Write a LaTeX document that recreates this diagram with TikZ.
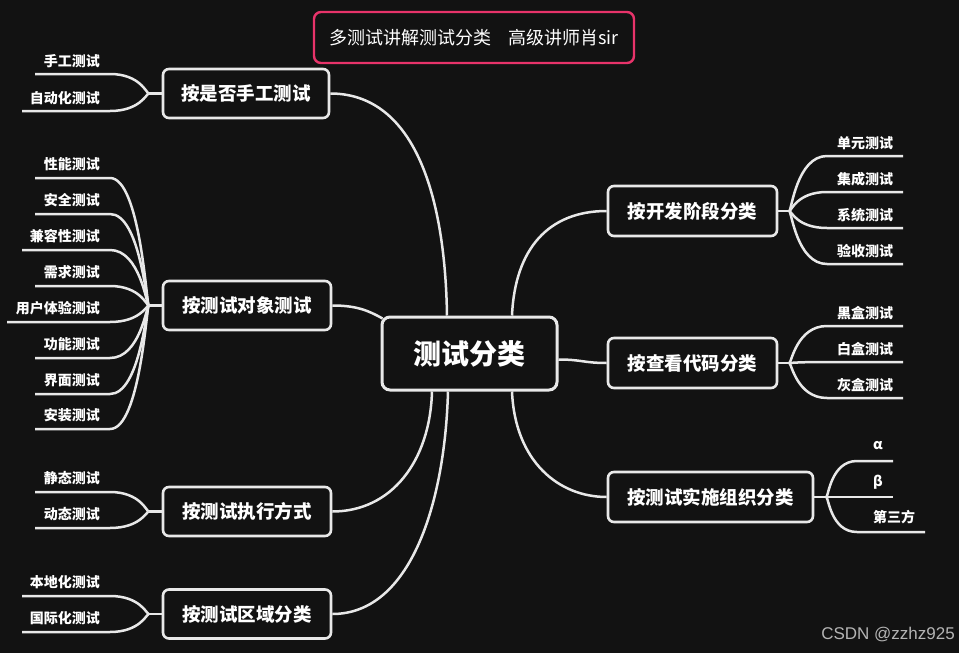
\documentclass[tikz,border=0pt]{standalone}
\usepackage{fontspec}
\setmainfont{Noto Sans CJK SC}
\newfontfamily\markfont{Liberation Sans}
\usetikzlibrary{positioning,calc}

\definecolor{bgdark}{HTML}{121212}
\definecolor{linegray}{HTML}{E8E8E8}
\definecolor{titlered}{HTML}{E8336A}
\definecolor{markgray}{HTML}{B4B4B4}

\begin{document}
\begin{tikzpicture}[x=1pt, y=-1pt,
    branch/.style={draw=linegray, line width=2.5pt},
    topic/.style={draw=linegray, line width=2.6pt, fill=bgdark, rounded corners=6pt,
        text=white, inner sep=0pt, minimum width=168pt, minimum height=49pt,
        font=\bfseries\fontsize{18.5}{21}\selectfont},
    roottopic/.style={topic, line width=3pt, rounded corners=8pt, minimum width=175pt,
        minimum height=73pt, font=\bfseries\fontsize{28}{32}\selectfont},
    titlebox/.style={draw=titlered, line width=2.4pt, rounded corners=7pt, text=white,
        minimum width=320pt, minimum height=51pt, font=\fontsize{18}{21}\selectfont},
    leafL/.style={anchor=east, text=white, inner sep=0pt, font=\bfseries\fontsize{14}{16}\selectfont},
    leafR/.style={leafL, anchor=west}]
% Canvas
\useasboundingbox (0,0) rectangle (959,653);
\fill[bgdark] (0,0) rectangle (959,653);
% Title
\node[titlebox] (title) at (474,37.5) {多测试讲解测试分类\hspace{17pt}高级讲师肖sir};
% Central topic
\node[roottopic] (root) at (469.5,353.5) {测试分类};
% Main topics
\node[topic, minimum width=166pt] (b1) at (246,93.5) {按是否手工测试};
\node[topic] (b2) at (247,305.5) {按测试对象测试};
\node[topic] (b3) at (247,511.5) {按测试执行方式};
\node[topic] (b4) at (247,614) {按测试区域分类};
\node[topic, minimum width=169pt, minimum height=50pt] (r1) at (692.5,211) {按开发阶段分类};
\node[topic, minimum width=169pt, minimum height=50pt] (r2) at (692.5,363) {按查看代码分类};
\node[topic, minimum width=205pt, minimum height=50pt] (r3) at (710.5,497) {按测试实施组织分类};
% Ends on the central topic
\coordinate (rt1) at ($(root.north)+(-22.5,0)$);
\coordinate (rt2) at ($(root.north)+(42.5,0)$);
\coordinate (rl) at ($(root.north west)+(2,3)$);
\coordinate (rr) at ($(root.east)+(0,6)$);
\coordinate (rb1) at ($(root.south)+(-37.5,0)$);
\coordinate (rb2) at ($(root.south)+(-21.5,0)$);
\coordinate (rb3) at ($(root.south)+(42.5,0)$);
% Main connectors
\draw[branch] (b1.east) .. controls +(81,0) and +(-2,-127) .. (rt1);
\draw[branch] (b2.east) .. controls +(24,0) and +(-14,-8) .. (rl);
\draw[branch] (rb1) .. controls +(-2,70) and +(59,0) .. (b3.east);
\draw[branch] (rb2) .. controls +(-3,110) and +(79,0) .. (b4.east);
\draw[branch] (rt2) .. controls +(3,-67) and +(-58,0) .. (r1.west);
\draw[branch] (rr) .. controls +(23,0) and +(-23,0) .. (r2.west);
\draw[branch] (rb3) .. controls +(3,70) and +(-48,0) .. (r3.west);
% Junctions
\coordinate (ja) at ($(b1.west)+(-13,0)$);
\coordinate (jb) at ($(b2.west)+(-13,0)$);
\coordinate (jc) at ($(b3.west)+(-13,0)$);
\coordinate (jd) at ($(b4.west)+(-13,0)$);
\coordinate (je) at ($(r1.east)+(11,0)$);
\coordinate (jf) at ($(r2.east)+(11,0)$);
\coordinate (jg) at ($(r3.east)+(12,0)$);
\foreach \j/\t in {ja/b1,jb/b2,jc/b3,jd/b4} \draw[branch] (\t.west) -- (\j);
\foreach \j/\t in {je/r1,jf/r2,jg/r3} \draw[branch] (\t.east) -- (\j);
% Leaves, left side
\foreach \y/\sx/\txt [count=\i] in {74/35/手工测试, 111/22/自动化测试} {
    \coordinate (a\i) at (\sx,\y);
    \node[leafL] (la\i) at (100,\y-13) {\txt};
    \draw[branch] (ja) .. controls +(-2,0) and +(30,0) .. (110,\y) -- (a\i);
}
\foreach \y/\sx/\txt [count=\i] in {178/35/性能测试, 214/35/安全测试, 250/22/兼容性测试,
        286/35/需求测试, 322/7/用户体验测试, 358/35/功能测试, 394/35/界面测试, 429/35/安装测试} {
    \coordinate (b\i) at (\sx,\y);
    \node[leafL] (lb\i) at (100,\y-14) {\txt};
    \draw[branch] (jb) .. controls +(-2,0) and +(30,0) .. (110,\y) -- (b\i);
}
\foreach \y/\sx/\txt [count=\i] in {492/35/静态测试, 528/35/动态测试} {
    \coordinate (c\i) at (\sx,\y);
    \node[leafL] (lc\i) at (100,\y-14) {\txt};
    \draw[branch] (jc) .. controls +(-2,0) and +(30,0) .. (110,\y) -- (c\i);
}
\foreach \y/\sx/\txt [count=\i] in {596/22/本地化测试, 632/22/国际化测试} {
    \coordinate (d\i) at (\sx,\y);
    \node[leafL] (ld\i) at (100,\y-14) {\txt};
    \draw[branch] (jd) .. controls +(-2,0) and +(30,0) .. (110,\y) -- (d\i);
}
% Leaves, right side
\foreach \y/\txt [count=\i] in {156/单元测试, 192/集成测试, 228/系统测试, 264/验收测试} {
    \coordinate (e\i) at (903,\y);
    \node[leafR] (le\i) at (837,\y-13) {\txt};
    \draw[branch] (je) .. controls +(2,0) and +(-30,0) .. (827,\y) -- (e\i);
}
\foreach \y/\txt [count=\i] in {326/黑盒测试, 362/白盒测试, 398/灰盒测试} {
    \coordinate (f\i) at (903,\y);
    \node[leafR] (lf\i) at (837,\y-13) {\txt};
    \draw[branch] (jf) .. controls +(2,0) and +(-30,0) .. (827,\y) -- (f\i);
}
\foreach \y/\ex/\txt [count=\i] in {461/893/α, 497/893/β, 532/925/第三方} {
    \coordinate (g\i) at (\ex,\y);
    \node[leafR] (lg\i) at (873,\y-15) {\txt};
    \draw[branch] (jg) .. controls +(2,0) and +(-26,0) .. (857,\y) -- (g\i);
}
% Watermark
\node[anchor=east, inner sep=0pt, text=markgray, font=\markfont\fontsize{17}{20}\selectfont] (mark) at (955,635) {CSDN @zzhz925};
\end{tikzpicture}
\end{document}
